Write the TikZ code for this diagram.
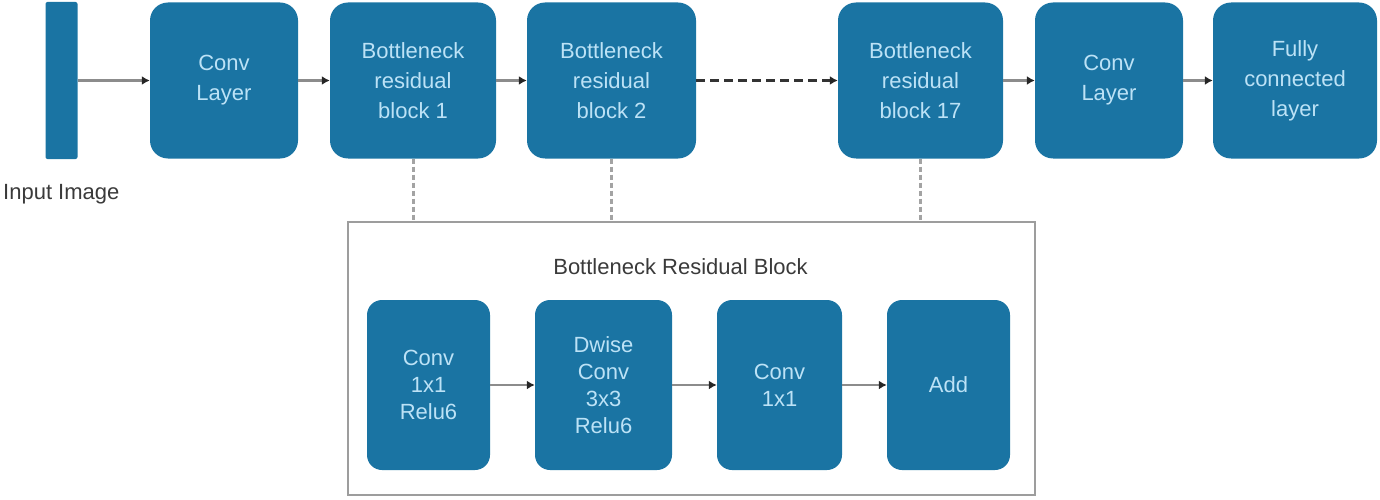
\documentclass[tikz,border=0pt]{standalone}
\usepackage{fontspec}
\setmainfont{Liberation Sans}
\usetikzlibrary{arrows.meta}
\definecolor{boxblue}{HTML}{1A74A3}
\definecolor{boxtext}{HTML}{BCE2F6}
\definecolor{linegray}{HTML}{8C8C8C}
\definecolor{labelgray}{HTML}{3A3A3A}
\tikzset{
  blk/.style={draw=none, fill=boxblue, rounded corners=18pt, text=boxtext,
    align=center, font=\fontsize{22}{30}\selectfont, inner sep=0pt,
    minimum height=156pt},
  inblk/.style={draw=none, fill=boxblue, rounded corners=15pt, text=boxtext,
    align=center, font=\fontsize{22}{27}\selectfont, inner sep=0pt,
    minimum height=170pt},
  flow/.style={draw=linegray, line width=3pt,
    -{Latex[length=8pt,width=9pt,color=black!85]}},
  dflow/.style={draw=black!80, line width=3pt, dash pattern=on 9pt off 5pt,
    -{Latex[length=8pt,width=9pt,color=black!85]}},
  link/.style={draw=linegray!80, line width=3pt, dash pattern=on 5pt off 3pt},
  lbl/.style={text=labelgray, font=\fontsize{22}{26}\selectfont, inner sep=0pt}
}
\begin{document}
\begin{tikzpicture}[x=1pt,y=-1pt]
\useasboundingbox (0,0) rectangle (1380,500);
% input bar
\node[fill=boxblue, rounded corners=2pt, minimum width=32pt, minimum height=157pt, inner sep=0pt] (inp) at (61.5,80.5) {};
\node[lbl, anchor=west] (inlbl) at (3,194) {Input Image};
% top row
\node[blk, minimum width=148pt] (c1) at (224,80.5) {Conv\\Layer};
\node[blk, minimum width=166pt] (b1) at (413,80.5) {Bottleneck\\residual\\block 1};
\node[blk, minimum width=169pt] (b2) at (611.5,80.5) {Bottleneck\\residual\\block 2};
\node[blk, minimum width=165pt] (b17) at (920.5,80.5) {Bottleneck\\residual\\block 17};
\node[blk, minimum width=148pt] (c2) at (1109,80.5) {Conv\\Layer};
\node[blk, minimum width=164pt] (fc) at (1295,80.5) {Fully\\connected\\layer};
% big box
\node[draw=linegray!85, line width=2.5pt, minimum width=687pt, minimum height=273pt, inner sep=0pt] (big) at (691.5,358.5) {};
\node[lbl] (title) at (680.5,267) {Bottleneck Residual Block};
% inner blocks
\node[inblk, minimum width=123pt] (i1) at (428.5,385) {Conv\\1x1\\Relu6};
\node[inblk, minimum width=137pt] (i2) at (603.5,385) {Dwise\\Conv\\3x3\\Relu6};
\node[inblk, minimum width=125pt] (i3) at (779.5,385) {Conv\\1x1};
\node[inblk, minimum width=123pt] (i4) at (948.5,385) {Add};
% top arrows
\draw[flow] (inp) -- (c1);
\draw[flow] (c1) -- (b1);
\draw[flow] (b1) -- (b2);
\draw[dflow] (b2) -- (b17);
\draw[flow] (b17) -- (c2);
\draw[flow] (c2) -- (fc);
% inner arrows
\draw[flow, line width=2.5pt] (i1) -- (i2);
\draw[flow, line width=2.5pt] (i2) -- (i3);
\draw[flow, line width=2.5pt] (i3) -- (i4);
% links
\draw[link] (b1.south) -- (b1.south |- big.north);
\draw[link] (b2.south) -- (b2.south |- big.north);
\draw[link] (b17.south) -- (b17.south |- big.north);
\end{tikzpicture}
\end{document}
